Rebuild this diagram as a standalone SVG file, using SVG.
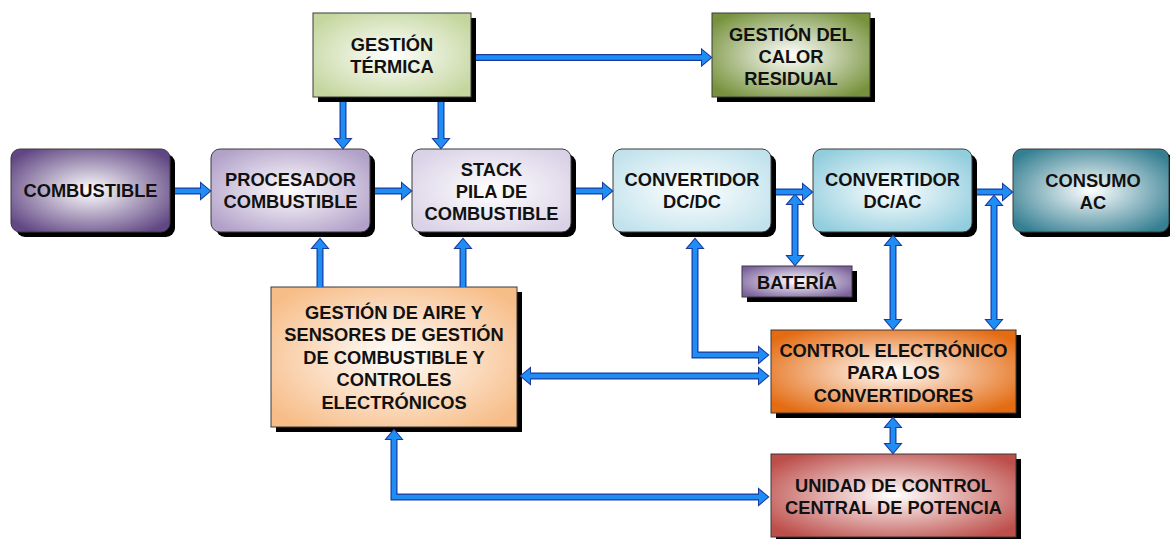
<svg xmlns="http://www.w3.org/2000/svg" width="1170" height="539" viewBox="0 0 1170 539">
<style>
.sh{fill:#000}
.bx{stroke:#3a3a3a;stroke-width:1}
.t{font-family:"Liberation Sans",Arial,sans-serif;font-weight:bold;font-size:18.3px;fill:#111;text-anchor:middle}
.so{fill:none;stroke:#1b3a9e;stroke-width:7;stroke-linejoin:miter}
.si{fill:none;stroke:#1e8ef5;stroke-width:4.6;stroke-linejoin:miter}
.ho{fill:#1b3a9e;stroke:#1b3a9e;stroke-width:2;stroke-linejoin:miter}
.hi{fill:#1e8ef5}
</style>
<defs>
<radialGradient id="g-comb" cx="0.5" cy="0.5" r="0.62"><stop offset="0" stop-color="#fff"/><stop offset="1" stop-color="#614783"/></radialGradient>
<radialGradient id="g-proc" cx="0.5" cy="0.5" r="0.62"><stop offset="0" stop-color="#fff"/><stop offset="1" stop-color="#b1a0c8"/></radialGradient>
<radialGradient id="g-stack" cx="0.5" cy="0.5" r="0.62"><stop offset="0" stop-color="#fff"/><stop offset="1" stop-color="#d9d1e6"/></radialGradient>
<radialGradient id="g-dcdc" cx="0.5" cy="0.5" r="0.62"><stop offset="0" stop-color="#fff"/><stop offset="1" stop-color="#c1e2ec"/></radialGradient>
<radialGradient id="g-dcac" cx="0.5" cy="0.5" r="0.62"><stop offset="0" stop-color="#fff"/><stop offset="1" stop-color="#91cddd"/></radialGradient>
<radialGradient id="g-cons" cx="0.5" cy="0.5" r="0.62"><stop offset="0" stop-color="#fff"/><stop offset="1" stop-color="#357f92"/></radialGradient>
<radialGradient id="g-term" cx="0.5" cy="0.5" r="0.62"><stop offset="0" stop-color="#fff"/><stop offset="1" stop-color="#c3d69d"/></radialGradient>
<radialGradient id="g-calor" cx="0.5" cy="0.5" r="0.62"><stop offset="0" stop-color="#fff"/><stop offset="1" stop-color="#76923c"/></radialGradient>
<radialGradient id="g-bat" cx="0.5" cy="0.5" r="0.62"><stop offset="0" stop-color="#fff"/><stop offset="1" stop-color="#7a619c"/></radialGradient>
<radialGradient id="g-air" cx="0.5" cy="0.5" r="0.62"><stop offset="0" stop-color="#fff"/><stop offset="1" stop-color="#f7bd88"/></radialGradient>
<radialGradient id="g-ctrl" cx="0.5" cy="0.5" r="0.62"><stop offset="0" stop-color="#fff"/><stop offset="1" stop-color="#e46b12"/></radialGradient>
<radialGradient id="g-unit" cx="0.5" cy="0.5" r="0.62"><stop offset="0" stop-color="#fff"/><stop offset="1" stop-color="#bd4f4b"/></radialGradient>
</defs>
<rect width="1170" height="539" fill="#fff"/>

<g id="n-termica"><rect class="sh" x="318" y="18" width="158" height="84"/><rect class="bx" x="313" y="13" width="158" height="84" fill="url(#g-term)"/><text class="t" x="392" y="50.5">GESTIÓN</text><text class="t" x="392" y="72.5">TÉRMICA</text></g>
<g id="n-calor"><rect class="sh" x="717" y="18" width="158" height="84"/><rect class="bx" x="712" y="13" width="158" height="84" fill="url(#g-calor)"/><text class="t" x="791" y="40.5">GESTIÓN DEL</text><text class="t" x="791" y="62.5">CALOR</text><text class="t" x="791" y="84.5">RESIDUAL</text></g>
<g id="n-combustible"><rect class="sh" x="16" y="154" width="159" height="83" rx="9"/><rect class="bx" x="11" y="149" width="159" height="83" rx="9" fill="url(#g-comb)"/><text class="t" x="90.5" y="197">COMBUSTIBLE</text></g>
<g id="n-procesador"><rect class="sh" x="216" y="154" width="159" height="83" rx="9"/><rect class="bx" x="211" y="149" width="159" height="83" rx="9" fill="url(#g-proc)"/><text class="t" x="290.5" y="186">PROCESADOR</text><text class="t" x="290.5" y="208">COMBUSTIBLE</text></g>
<g id="n-stack"><rect class="sh" x="417" y="154" width="159" height="83" rx="9"/><rect class="bx" x="412" y="149" width="159" height="83" rx="9" fill="url(#g-stack)"/><text class="t" x="491.5" y="175.5">STACK</text><text class="t" x="491.5" y="197.5">PILA DE</text><text class="t" x="491.5" y="219.5">COMBUSTIBLE</text></g>
<g id="n-dcdc"><rect class="sh" x="618" y="154" width="158" height="83" rx="9"/><rect class="bx" x="613" y="149" width="158" height="83" rx="9" fill="url(#g-dcdc)"/><text class="t" x="692" y="186">CONVERTIDOR</text><text class="t" x="692" y="208">DC/DC</text></g>
<g id="n-dcac"><rect class="sh" x="818" y="154" width="159" height="83" rx="9"/><rect class="bx" x="813" y="149" width="159" height="83" rx="9" fill="url(#g-dcac)"/><text class="t" x="892.5" y="186">CONVERTIDOR</text><text class="t" x="892.5" y="208">DC/AC</text></g>
<g id="n-consumo"><rect class="sh" x="1018" y="154" width="157" height="83" rx="9"/><rect class="bx" x="1013" y="149" width="156" height="83" rx="9" fill="url(#g-cons)"/><text class="t" x="1093" y="186.5">CONSUMO</text><text class="t" x="1093" y="208.5">AC</text></g>
<g id="n-bateria"><rect class="sh" x="747" y="271" width="110" height="31"/><rect class="bx" x="742" y="266" width="110" height="31" fill="url(#g-bat)"/><text class="t" x="797" y="289">BATERÍA</text></g>
<g id="n-aire"><rect class="sh" x="276" y="292" width="246" height="140"/><rect class="bx" x="271" y="287" width="246" height="140" fill="url(#g-air)"/><text class="t" x="394" y="318.5">GESTIÓN DE AIRE Y</text><text class="t" x="394" y="341">SENSORES DE GESTIÓN</text><text class="t" x="394" y="363.5">DE COMBUSTIBLE Y</text><text class="t" x="394" y="386">CONTROLES</text><text class="t" x="394" y="408.5">ELECTRÓNICOS</text></g>
<g id="n-control"><rect class="sh" x="776" y="335" width="245" height="83"/><rect class="bx" x="771" y="330" width="245" height="83" fill="url(#g-ctrl)"/><text class="t" x="893.5" y="356.5">CONTROL ELECTRÓNICO</text><text class="t" x="893.5" y="379">PARA LOS</text><text class="t" x="893.5" y="401.5">CONVERTIDORES</text></g>
<g id="n-unidad"><rect class="sh" x="776" y="459" width="245" height="83"/><rect class="bx" x="771" y="454" width="245" height="83" fill="url(#g-unit)"/><text class="t" x="893.5" y="492">UNIDAD DE CONTROL</text><text class="t" x="893.5" y="514">CENTRAL DE POTENCIA</text></g>

<g id="connectors">
<g id="conn-outline">
<path class="so" d="M175 191H202 M375 191H403 M576 191H604 M776 192H804 M977 192H1004 M476 57.5H703 M343 102V140 M441 102V140 M320 287V247 M463 287V247 M795 203V257 M695 247V355H760 M529 376H760 M893 244V321 M994 204V321 M893 426V445 M394 438V497H760"/>
<path class="ho" d="M201 183.5L210 191L201 198.5Z M402 183.5L411 191L402 198.5Z M603 183.5L612 191L603 198.5Z M803 184.5L812 192L803 199.5Z M1003 184.5L1012 192L1003 199.5Z M702 50L711 57.5L702 65Z M335.5 139L343 148L350.5 139Z M433.5 139L441 148L448.5 139Z M312.5 248L320 239L327.5 248Z M455.5 248L463 239L470.5 248Z M787.5 204L795 195L802.5 204Z M787.5 256L795 265L802.5 256Z M687.5 248L695 239L702.5 248Z M759 347.5L768 355L759 362.5Z M530 368.5L521 376L530 383.5Z M759 368.5L768 376L759 383.5Z M885.5 245L893 236L900.5 245Z M885.5 320L893 329L900.5 320Z M986.5 205L994 196L1001.5 205Z M986.5 320L994 329L1001.5 320Z M885.5 427L893 418L900.5 427Z M885.5 444L893 453L900.5 444Z M386.5 439L394 430L401.5 439Z M759 489.5L768 497L759 504.5Z"/>
</g>
<g id="conn-fill">
<path class="si" d="M175 191H202 M375 191H403 M576 191H604 M776 192H804 M977 192H1004 M476 57.5H703 M343 102V140 M441 102V140 M320 287V247 M463 287V247 M795 203V257 M695 247V355H760 M529 376H760 M893 244V321 M994 204V321 M893 426V445 M394 438V497H760"/>
<path class="hi" d="M201 183.5L210 191L201 198.5Z M402 183.5L411 191L402 198.5Z M603 183.5L612 191L603 198.5Z M803 184.5L812 192L803 199.5Z M1003 184.5L1012 192L1003 199.5Z M702 50L711 57.5L702 65Z M335.5 139L343 148L350.5 139Z M433.5 139L441 148L448.5 139Z M312.5 248L320 239L327.5 248Z M455.5 248L463 239L470.5 248Z M787.5 204L795 195L802.5 204Z M787.5 256L795 265L802.5 256Z M687.5 248L695 239L702.5 248Z M759 347.5L768 355L759 362.5Z M530 368.5L521 376L530 383.5Z M759 368.5L768 376L759 383.5Z M885.5 245L893 236L900.5 245Z M885.5 320L893 329L900.5 320Z M986.5 205L994 196L1001.5 205Z M986.5 320L994 329L1001.5 320Z M885.5 427L893 418L900.5 427Z M885.5 444L893 453L900.5 444Z M386.5 439L394 430L401.5 439Z M759 489.5L768 497L759 504.5Z"/>
</g>
</g>
</svg>
